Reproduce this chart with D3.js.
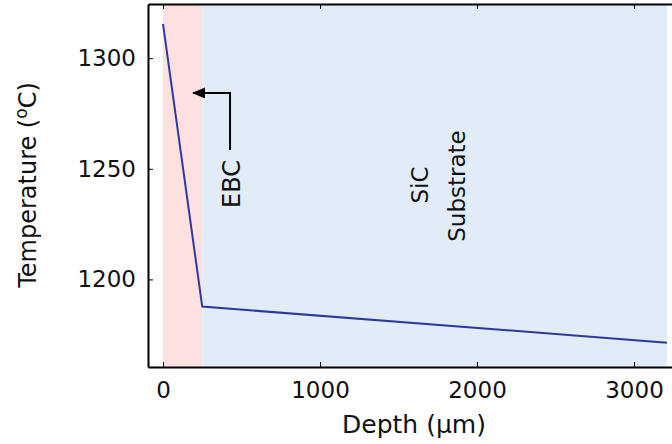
<!DOCTYPE html>
<html>
<head>
<meta charset="utf-8">
<script src="https://cdn.jsdelivr.net/npm/d3@7"></script>
<style>
  body { margin: 0; background: #fff; }
  svg { display: block; font-family: "DejaVu Sans", sans-serif; }
</style>
</head>
<body>
<div id="chart"></div>
<script>
// Temperature profile through EBC + SiC substrate
var depth = [0, 250, 3210];
var temperature = [1315.5, 1187.7, 1171.4];
var regions = [
  { name: 'EBC', from: 0, to: 250, color: '#fde1e1' },
  { name: 'SiC', from: 250, to: 3210, color: '#e2ecf7' }
];
var xTicks = [0, 1000, 2000, 3000];
var yTicks = [1200, 1250, 1300];

var W = 672, H = 444;

var svg = d3.select('#chart')
    .append('svg')
    .attr('width', W)
    .attr('height', H);

const x = d3.scaleLinear()
    .domain([-95.5, 3300])
    .range([148, 681.1]);

const y = d3.scaleLinear()
    .domain([1160.4, 1324.5])
    .range([367, 4]);

// background bands
svg.append('g')
    .selectAll('rect')
    .data(regions)
    .enter()
    .append('rect')
        .attr('x', d => x(d.from))
        .attr('y', y.range()[1])
        .attr('width', d => x(d.to) - x(d.from))
        .attr('height', y.range()[0] - y.range()[1])
        .attr('fill', d => d.color);

// line
const pts = depth.map((d, i) => [d, temperature[i]]);
svg.append('path')
    .datum(pts)
    .attr('fill', 'none')
    .attr('stroke', '#2d3a9c')
    .attr('stroke-width', 2)
    .attr('d', d3.line().x(d => x(d[0])).y(d => y(d[1])));

// axes, ticks inside
const fs = 23;
const fmt = d3.format('d');
function styleAxis(g) {
  g.attr('font-family', null).attr('font-size', null);
  g.selectAll('text').attr('font-size', fs).attr('fill', '#111');
  g.select('.domain').attr('stroke-width', 2);
}
svg.append('g')
    .attr('transform', `translate(0,${y.range()[0]})`)
    .call(d3.axisBottom(x).tickValues(xTicks).tickFormat(fmt).tickSizeInner(-5).tickSizeOuter(0).tickPadding(15))
    .call(styleAxis);

svg.append('g')
    .attr('transform', `translate(0,${y.range()[1]})`)
    .call(d3.axisTop(x).tickValues(xTicks).tickSizeInner(-5).tickSizeOuter(0).tickFormat(''))
    .call(styleAxis);

svg.append('g')
    .attr('transform', `translate(${x.range()[0]},0)`)
    .call(d3.axisLeft(y).tickValues(yTicks).tickFormat(fmt).tickSizeInner(-5).tickSizeOuter(0).tickPadding(12))
    .call(styleAxis);

// axis titles
svg.append('text')
    .attr('x', 414).attr('y', 433)
    .attr('text-anchor', 'middle')
    .attr('font-size', 25).attr('fill', '#111')
    .text('Depth (µm)');

const yl = svg.append('text')
    .attr('transform', 'translate(36,185) rotate(-90)')
    .attr('text-anchor', 'middle')
    .attr('font-size', 24).attr('fill', '#111');
yl.append('tspan').text('Temperature (');
yl.append('tspan').attr('dy', -9).attr('font-size', 17).text('o');
yl.append('tspan').attr('dy', 9).text('C)');

// annotations
svg.append('defs').append('marker')
    .attr('id', 'arr')
    .attr('viewBox', '0 0 13 11')
    .attr('refX', 12).attr('refY', 5.5)
    .attr('markerUnits', 'userSpaceOnUse')
    .attr('markerWidth', 13).attr('markerHeight', 11)
    .attr('orient', 'auto')
    .append('path').attr('d', 'M0,0L13,5.5L0,11z').attr('fill', '#000');

svg.append('path')
    .attr('d', `M${x(427)},${y(1258.5)}V${y(1284.3)}H${x(191)}`)
    .attr('fill', 'none').attr('stroke', '#000').attr('stroke-width', 2)
    .attr('marker-end', 'url(#arr)');

function vlabel(txt, px, py, size) {
  svg.append('text')
      .attr('transform', `translate(${px},${py}) rotate(-90)`)
      .attr('text-anchor', 'middle')
      .attr('font-size', size).attr('fill', '#111')
      .text(txt);
}
vlabel('EBC', 240, 184, 24);
vlabel('SiC', 428, 185, 23);
vlabel('Substrate', 465, 186, 23);
</script>
</body>
</html>
